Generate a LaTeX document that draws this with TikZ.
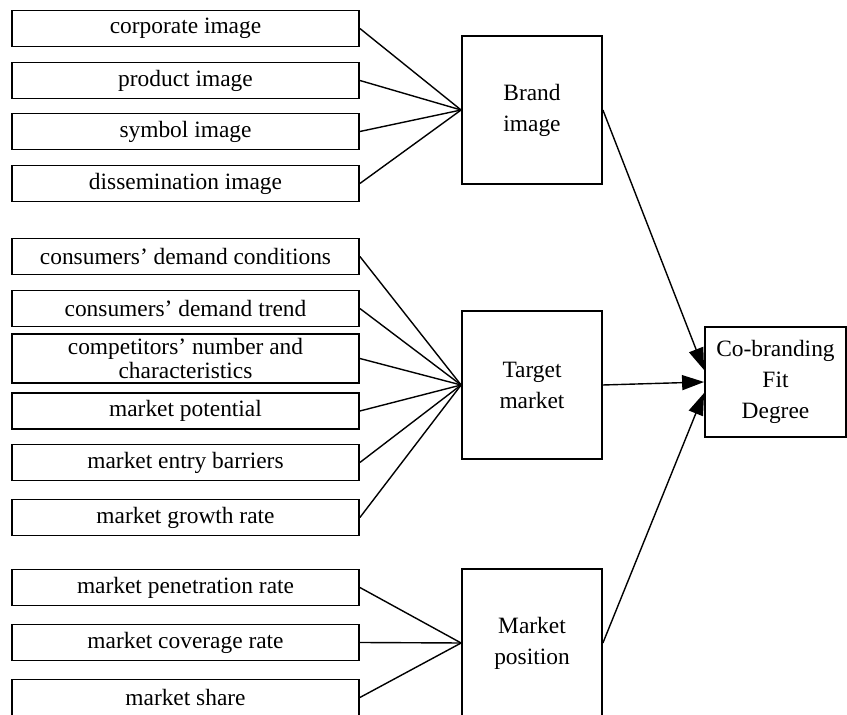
\documentclass[tikz,border=0pt]{standalone}
\usepackage{fontspec}
\setmainfont{Liberation Serif}
\usepackage{tikz}
\usetikzlibrary{arrows.meta}

\begin{document}
\begin{tikzpicture}[x=0.5pt,y=-0.5pt,
    item/.style={draw,line width=0.9pt,minimum width=173.5pt,minimum height=18pt,inner sep=0pt,
                 font=\fontsize{11.7pt}{9.5pt}\selectfont,align=center},
    factor/.style={draw,line width=0.9pt,minimum width=70pt,minimum height=74pt,inner sep=0pt,
                 font=\fontsize{11.7pt}{15.5pt}\selectfont,align=center},
    link/.style={line width=0.7pt},
    flow/.style={line width=0.7pt,-{Triangle[length=11pt,width=7.5pt]}}]
                      \useasboundingbox (0,0) rectangle (847,715);
                      % brand image
                      \node[item] (ci) at (185.5,28.5) {corporate image};
                      \node[item] (pi) at (185.5,80.5) {product image};
                      \node[item] (si) at (185.5,131.5) {symbol image};
                      \node[item] (di) at (185.5,183.5) {dissemination image};
                      \node[factor] (brand) at (532,110) {Brand\\image};
                      % target market
                      \node[item] (dc) at (185.5,256.5) {consumers' demand conditions};
                      \node[item] (dt) at (185.5,308.5) {consumers' demand trend};
                      \node[item,minimum height=24.5pt] (cn) at (185.5,358.5) {competitors' number and\\characteristics};
                      \node[item] (mp) at (185.5,411) {market potential};
                      \node[item] (eb) at (185.5,462.5) {market entry barriers};
                      \node[item] (gr) at (185.5,517.5) {market growth rate};
                      \node[factor] (target) at (532,385) {Target\\market};
                      % market position
                      \node[item] (pr) at (185.5,587.5) {market penetration rate};
                      \node[item] (cr) at (185.5,642.5) {market coverage rate};
                      \node[item] (ms) at (185.5,697.5) {market share};
                      \node[factor] (position) at (532,643) {Market\\position};
                      \node[factor,minimum width=70.5pt,minimum height=55pt] (fit) at (775.5,382) {Co-branding\\Fit\\Degree};
                      \foreach \a in {ci,pi,si,di}
                        \draw[link] (\a.east) -- (brand.west);
                      \foreach \a in {dc,dt,cn,mp,eb,gr}
                        \draw[link] (\a.east) -- (target.west);
                      \foreach \a in {pr,cr,ms}
                        \draw[link] (\a.east) -- (position.west);
                      \draw[flow] (brand.east) -- ([yshift=6pt]fit.west);
                      \draw[flow] (target.east) -- (fit.west);
                      \draw[flow] (position.east) -- ([yshift=-5.5pt]fit.west);
                  \end{tikzpicture}
\end{document}
